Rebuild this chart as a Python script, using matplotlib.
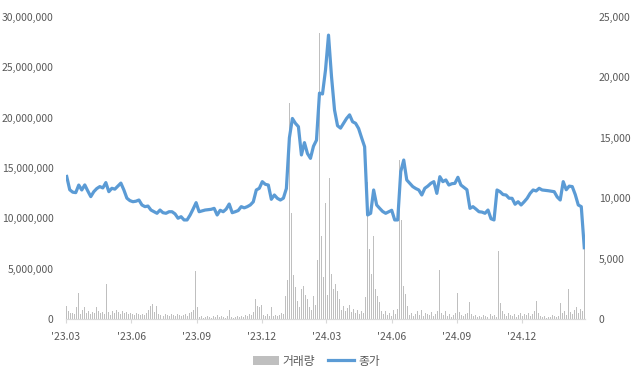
import matplotlib
matplotlib.use("Agg")
import matplotlib.pyplot as plt
import matplotlib.dates as mdates
from matplotlib.ticker import FuncFormatter, MultipleLocator
import numpy as np
import pandas as pd

plt.rcParams["font.family"] = ["Noto Sans CJK KR", "DejaVu Sans"]

START_DATE = "2023-03-02"
END_DATE = "2025-02-27"

TICK_DATES = ["2023-03-01", "2023-06-01", "2023-09-01", "2023-12-01",
              "2024-03-01", "2024-06-01", "2024-09-01", "2024-12-01"]
TICK_LABELS = ["'23.03", "'23.06", "'23.09", "'23.12",
               "'24.03", "'24.06", "'24.09", "'24.12"]

# closing price (won)
CLOSE = [
    11800, 10700, 10500, 10460, 11090, 10680, 11100, 10600, 10130, 10540,
    10800, 10960, 10850, 11290, 10540, 10820, 10750, 11000, 11250, 10680,
    10000, 9800, 9710, 9750, 9850, 9440, 9300, 9350, 9020, 8880,
    8750, 9020, 8800, 8750, 8880, 8880, 8700, 8340, 8470, 8200,
    8200, 8600, 9100, 9630, 8880, 8950, 9020, 9050, 9080, 9160,
    8610, 9000, 8880, 9100, 9520, 8800, 8880, 8980, 9300, 9200,
    9300, 9440, 9700, 10680, 10820, 11370, 11150, 11090, 9910, 10265,
    9990, 9850, 10000, 10800, 15000, 16600, 16200, 15920, 13580, 14600,
    13700, 13300, 14300, 14800, 18700, 18630, 20610, 23500, 20060, 17300,
    16000, 15800, 16200, 16600, 16900, 16330, 16200, 15770, 15000, 14260,
    8610, 8750, 10680, 9440, 9160, 8900, 8750, 8880, 9000, 8200,
    8200, 12200, 13160, 11510, 11230, 10960, 10800, 10680, 10265, 10820,
    11000, 11230, 11370, 10400, 11780, 11370, 11510, 11090, 11200, 11230,
    11730, 11090, 10900, 10700, 9160, 9300, 9100, 8880, 8850, 8750,
    9020, 8300, 8200, 10680, 10540, 10300, 10265, 10000, 9990, 9500,
    9710, 9440, 9700, 9990, 10400, 10680, 10600, 10820, 10680, 10650,
    10620, 10580, 10540, 10100, 9850, 11370, 10700, 11000, 10960, 10300,
    9440, 9300, 5900,
]

# trading volume in millions of shares
VOLUME_M = [
    1.3, 0.8, 0.6, 0.6, 0.5, 1.2, 2.6, 0.5, 0.9, 1.2,
    0.6, 0.8, 0.5, 0.7, 0.6, 1.2, 0.8, 0.6, 0.7, 0.5,
    3.5, 0.7, 0.4, 0.8, 0.6, 0.9, 0.7, 0.5, 0.8, 0.6,
    0.7, 0.5, 0.6, 0.5, 0.4, 0.6, 0.5, 0.4, 0.5, 0.4,
    0.6, 0.9, 1.3, 1.5, 0.7, 1.3, 0.5, 0.4, 0.3, 0.5,
    0.4, 0.3, 0.5, 0.4, 0.3, 0.5, 0.4, 0.3, 0.4, 0.5,
    0.3, 0.6, 0.7, 0.9, 4.8, 1.2, 0.2, 0.3, 0.1, 0.2,
    0.3, 0.2, 0.1, 0.3, 0.2, 0.4, 0.2, 0.3, 0.2, 0.1,
    0.3, 0.9, 0.2, 0.1, 0.2, 0.3, 0.2, 0.3, 0.2, 0.4,
    0.3, 0.5, 0.4, 0.7, 2.0, 1.3, 1.2, 1.4, 0.4, 0.3,
    0.5, 0.3, 1.2, 0.3, 0.4, 0.3, 0.4, 0.6, 0.5, 2.3,
    3.9, 21.5, 10.5, 4.4, 3.2, 1.8, 1.2, 3.0, 3.3, 2.4,
    2.0, 1.2, 0.9, 2.3, 1.4, 5.9, 28.4, 8.2, 4.2, 11.5,
    2.4, 14.0, 4.5, 3.0, 3.5, 2.8, 2.0, 0.9, 1.3, 0.8,
    1.1, 1.4, 0.7, 1.0, 0.6, 0.9, 0.5, 0.8, 0.6, 2.2,
    13.6, 7.0, 4.5, 8.2, 3.0, 2.3, 1.7, 0.8, 0.5, 0.8,
    0.4, 0.6, 0.3, 0.9, 0.5, 1.0, 15.8, 9.8, 3.3, 2.5,
    1.3, 0.4, 0.6, 0.3, 0.5, 0.8, 0.4, 0.9, 0.3, 0.6,
    0.5, 0.4, 0.7, 0.3, 0.5, 0.8, 4.9, 0.6, 0.4, 0.8,
    0.3, 0.5, 0.2, 0.4, 0.6, 2.6, 0.7, 0.4, 0.3, 0.5,
    0.6, 1.7, 0.5, 0.3, 0.4, 0.2, 0.3, 0.2, 0.4, 0.3,
    0.2, 0.5, 0.3, 0.4, 0.2, 6.8, 1.6, 0.8, 0.5, 0.3,
    0.6, 0.4, 0.3, 0.5, 0.2, 0.4, 0.6, 0.3, 0.5, 0.4,
    0.6, 0.3, 0.5, 0.8, 1.8, 0.6, 0.3, 0.2, 0.3, 0.1,
    0.2, 0.2, 0.4, 0.3, 0.2, 0.3, 1.6, 0.6, 0.8, 0.4,
    3.0, 0.7, 0.5, 0.9, 1.2, 0.6, 1.0, 0.8, 7.0,
]

TEXT_COLOR = "#595959"
BAR_COLOR = "#BFBFBF"
LINE_COLOR = "#5B9BD5"
AXIS_COLOR = "#D9D9D9"


def spread_dates(n):
    t0 = pd.Timestamp(START_DATE).value
    t1 = pd.Timestamp(END_DATE).value
    return mdates.date2num(pd.to_datetime(np.linspace(t0, t1, n)))


def main():
    price_x = spread_dates(len(CLOSE))
    vol_x = spread_dates(len(VOLUME_M))
    volume = np.array(VOLUME_M) * 1_000_000

    fig = plt.figure(figsize=(6.33, 3.77), dpi=100)
    ax = fig.add_axes([66 / 633, 1 - 319 / 377, 519 / 633, 302 / 377])
    ax2 = ax.twinx()

    bar_w = (vol_x[1] - vol_x[0]) * 0.5
    ax.bar(vol_x, volume, width=bar_w, color=BAR_COLOR, linewidth=0, label="거래량")
    ax2.plot(price_x, CLOSE, color=LINE_COLOR, linewidth=2.3, label="종가",
             solid_joinstyle="round")

    ax.set_xlim(mdates.datestr2num("2023-03-01"), mdates.datestr2num("2025-02-28"))
    ax.set_ylim(0, 30_000_000)
    ax2.set_ylim(0, 25_000)
    ax.yaxis.set_major_locator(MultipleLocator(5_000_000))
    ax2.yaxis.set_major_locator(MultipleLocator(5_000))
    comma = FuncFormatter(lambda v, _: f"{v:,.0f}")
    ax.yaxis.set_major_formatter(comma)
    ax2.yaxis.set_major_formatter(comma)

    ax.set_xticks([mdates.datestr2num(d) for d in TICK_DATES])
    ax.set_xticklabels(TICK_LABELS)

    for a in (ax, ax2):
        for side in ("top", "left", "right"):
            a.spines[side].set_visible(False)
        a.spines["bottom"].set_color(AXIS_COLOR)
    ax.tick_params(axis="x", length=3, color=AXIS_COLOR, pad=6,
                   labelsize=7.5, labelcolor=TEXT_COLOR)
    ax.tick_params(axis="y", length=0, pad=9, labelsize=7.5, labelcolor=TEXT_COLOR)
    ax2.tick_params(axis="y", length=0, pad=10, labelsize=7.5, labelcolor=TEXT_COLOR)

    h1, l1 = ax.get_legend_handles_labels()
    h2, l2 = ax2.get_legend_handles_labels()
    fig.legend(h1 + h2, l1 + l2, loc="center", bbox_to_anchor=(0.5, 1 - 361 / 377),
               ncol=2, frameon=False, fontsize=8.5, labelcolor=TEXT_COLOR,
               handlelength=2.2, handletextpad=0.3, columnspacing=1.1)

    fig.savefig("out.png", dpi=100)
    plt.close()


if __name__ == "__main__":
    main()
